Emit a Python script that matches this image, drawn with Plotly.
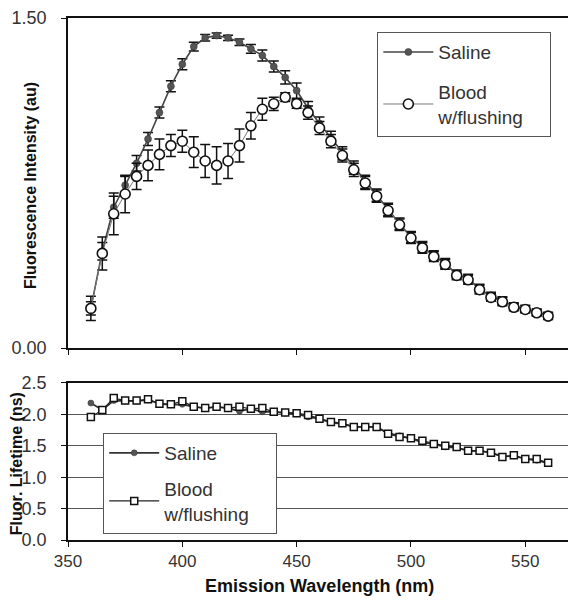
import plotly.graph_objects as go

wavelength = list(range(360, 561, 5))

saline_int = [0.18, 0.44, 0.64, 0.74, 0.84, 0.95, 1.07, 1.19, 1.29, 1.37,
              1.41, 1.42, 1.41, 1.39, 1.36, 1.33, 1.28, 1.23, 1.17, 1.09,
              1.02, 0.955, 0.885, 0.82, 0.755, 0.695, 0.63, 0.565, 0.505, 0.46,
              0.42, 0.385, 0.335, 0.315, 0.27, 0.235, 0.215, 0.19, 0.178, 0.162, 0.148]
saline_int_err = [0.03, 0.04, 0.05, 0.04, 0.035, 0.03, 0.025, 0.025, 0.025, 0.02,
                  0.015, 0.012, 0.012, 0.015, 0.02, 0.025, 0.025, 0.03, 0.035, 0.03,
                  0.03, 0.03, 0.03, 0.03, 0.03, 0.028, 0.028, 0.026, 0.025, 0.024,
                  0.022, 0.022, 0.02, 0.02, 0.02, 0.018, 0.018, 0.016, 0.016, 0.015, 0.015]

blood_int = [0.18, 0.43, 0.61, 0.70, 0.78, 0.83, 0.88, 0.92, 0.94, 0.89,
             0.85, 0.83, 0.85, 0.92, 1.01, 1.085, 1.11, 1.14, 1.11, 1.07,
             1.00, 0.94, 0.875, 0.81, 0.75, 0.69, 0.625, 0.56, 0.50, 0.455,
             0.415, 0.38, 0.33, 0.31, 0.265, 0.23, 0.21, 0.185, 0.175, 0.16, 0.145]
blood_int_err = [0.055, 0.075, 0.095, 0.085, 0.06, 0.07, 0.07, 0.05, 0.05, 0.07,
                 0.075, 0.085, 0.08, 0.075, 0.06, 0.05, 0.03, 0.02, 0.02, 0.03,
                 0.03, 0.03, 0.03, 0.03, 0.03, 0.028, 0.028, 0.026, 0.025, 0.024,
                 0.022, 0.022, 0.02, 0.02, 0.02, 0.018, 0.018, 0.016, 0.016, 0.015, 0.015]

saline_life = [2.18, 2.07, 2.22, 2.21, 2.21, 2.23, 2.17, 2.15, 2.16, 2.12,
               2.10, 2.12, 2.10, 2.05, 2.09, 2.04, 2.04, 2.02, 2.01, 1.96,
               1.93, 1.87, 1.85, 1.80, 1.80, 1.80, 1.70, 1.66, 1.62, 1.55,
               1.53, 1.48, 1.47, 1.42, 1.42, 1.39, 1.33, 1.34, 1.29, 1.27, 1.22]
blood_life = [1.96, 2.07, 2.26, 2.22, 2.22, 2.24, 2.17, 2.16, 2.21, 2.12,
              2.10, 2.12, 2.10, 2.12, 2.09, 2.10, 2.04, 2.03, 2.02, 1.99,
              1.93, 1.88, 1.86, 1.80, 1.80, 1.80, 1.69, 1.64, 1.62, 1.58,
              1.53, 1.50, 1.48, 1.42, 1.42, 1.39, 1.32, 1.35, 1.29, 1.29, 1.23]

FONT = "Liberation Sans, Arial, sans-serif"
TXT = "#333333"
PAD = "\u00a0" * 4

fig = go.Figure()

fig.add_trace(go.Scatter(
    x=wavelength, y=saline_int, name="Saline", mode="lines+markers",
    line=dict(color="#444444", width=1.6),
    marker=dict(symbol="circle", size=7, color="#555555", line=dict(color="#333333", width=0.5)),
    error_y=dict(type="data", array=saline_int_err, color="#111111", thickness=1.5, width=5),
    xaxis="x", yaxis="y", legend="legend", legendgroup="a"))

fig.add_trace(go.Scatter(
    x=wavelength, y=blood_int, name="Blood<br>w/flushing" + PAD, mode="lines+markers",
    line=dict(color="#777777", width=1),
    marker=dict(symbol="circle", size=10, color="white", line=dict(color="#111111", width=1.6)),
    error_y=dict(type="data", array=blood_int_err, color="#111111", thickness=1.5, width=5),
    xaxis="x", yaxis="y", legend="legend", legendgroup="b"))

fig.add_trace(go.Scatter(
    x=wavelength, y=saline_life, name="Saline", mode="lines+markers",
    line=dict(color="#333333", width=1.8),
    marker=dict(symbol="circle", size=6, color="#555555", line=dict(color="#333333", width=0.5)),
    xaxis="x2", yaxis="y2", legend="legend2", legendgroup="c"))

fig.add_trace(go.Scatter(
    x=wavelength, y=blood_life, name="Blood<br>w/flushing" + PAD, mode="lines+markers",
    line=dict(color="#222222", width=1.2),
    marker=dict(symbol="square", size=7, color="white", line=dict(color="#111111", width=1.5)),
    xaxis="x2", yaxis="y2", legend="legend2", legendgroup="d"))

axis_common = dict(showline=True, linecolor="#111111", linewidth=1.5, mirror=True,
                   ticks="outside", ticklen=5, tickcolor="#111111", automargin=False,
                   ticklabeloverflow="allow",
                   tickfont=dict(family=FONT, size=18, color=TXT), zeroline=False)

TITLE_FONT = dict(family=FONT, size=16, color="#111111")

fig.update_layout(
    width=576, height=601,
    # page body has an 8px default margin; compensate so the plot sits where the reference does
    margin=dict(l=60, r=13, t=10, b=69, autoexpand=False),
    paper_bgcolor="white", plot_bgcolor="white",
    font=dict(family=FONT, color=TXT),
    xaxis=dict(domain=[0, 1], range=[350, 570], tickvals=[350, 400, 450, 500, 550],
               showticklabels=False, showgrid=False, anchor="y", **axis_common),
    yaxis=dict(domain=[0.3678, 1], range=[0, 1.5], tickvals=[0, 1.5],
               ticktext=["0.00", "1.50"], showgrid=False, anchor="x",
               ticklabelstandoff=11, **axis_common),
    xaxis2=dict(domain=[0, 1], range=[350, 570], tickvals=[350, 400, 450, 500, 550],
                showgrid=False, anchor="y2", ticklabelstandoff=0,
                **{**axis_common, "tickfont": dict(family=FONT, size=17, color=TXT)}),
    yaxis2=dict(domain=[0, 0.3008], range=[0, 2.5], tickvals=[0, 0.5, 1.0, 1.5, 2.0, 2.5],
                ticktext=["0.0", "0.5", "1.0", "1.5", "2.0", "2.5"],
                showgrid=True, gridcolor="#555555", gridwidth=1, anchor="x2",
                ticklabelstandoff=11, **axis_common),
    legend=dict(x=0.615, y=0.973, xanchor="left", yanchor="top",
                bgcolor="white", bordercolor="#555555", borderwidth=1,
                font=dict(family=FONT, size=19, color=TXT), itemwidth=50,
                traceorder="grouped", tracegroupgap=12),
    legend2=dict(x=0.07, y=0.205, xanchor="left", yanchor="top",
                 bgcolor="white", bordercolor="#555555", borderwidth=1,
                 font=dict(family=FONT, size=19, color=TXT), itemwidth=50,
                 traceorder="grouped", tracegroupgap=8),
    showlegend=True,
    annotations=[
        dict(text="<b>Fluorescence Intensity (au)</b>", xref="paper", yref="paper",
             x=-0.0755, y=0.678, xanchor="center", yanchor="middle", textangle=-90,
             showarrow=False, font=TITLE_FONT),
        dict(text="<b>Fluor. Lifetime (ns)</b>", xref="paper", yref="paper",
             x=-0.101, y=0.1456, xanchor="center", yanchor="middle", textangle=-90,
             showarrow=False, font=TITLE_FONT),
        dict(text="<b>Emission Wavelength (nm)</b>", xref="paper", yref="paper",
             x=0.5, y=-0.0881, xanchor="center", yanchor="middle",
             showarrow=False, font=dict(family=FONT, size=18, color="#111111")),
    ],
)

fig.write_html("out.html")
